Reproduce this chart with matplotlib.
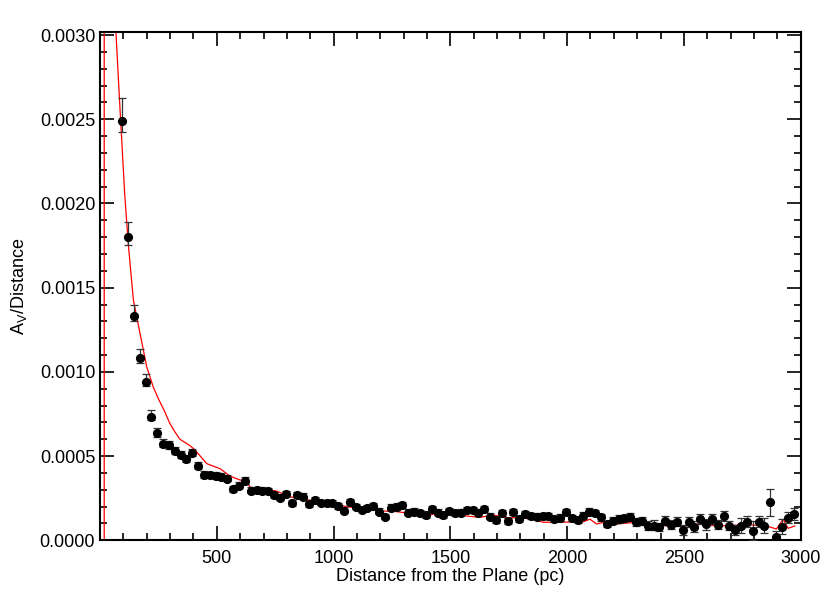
import numpy as np
import matplotlib
matplotlib.use("Agg")
import matplotlib.pyplot as plt
from matplotlib.ticker import MultipleLocator

plt.rcParams['font.family'] = ['Liberation Sans', 'DejaVu Sans']

# binned data points (pc, Av/distance)
dist = [95, 120, 145, 170, 195, 220, 245, 270, 295, 320, 345, 370, 395, 420, 445, 470,
        495, 520, 545, 570, 595, 620, 645, 670, 695, 720, 745, 770, 795, 820, 845, 870,
        895, 920, 945, 970, 995, 1020, 1045, 1070, 1095, 1120, 1145, 1170, 1195, 1220,
        1245, 1270, 1295, 1320, 1345, 1370, 1395, 1420, 1445, 1470, 1495, 1520, 1545,
        1570, 1595, 1620, 1645, 1670, 1695, 1720, 1745, 1770, 1795, 1820, 1845, 1870,
        1895, 1920, 1945, 1970, 1995, 2020, 2045, 2070, 2095, 2120, 2145, 2170, 2195,
        2220, 2245, 2270, 2295, 2320, 2345, 2370, 2395, 2420, 2445, 2470, 2495, 2520,
        2545, 2570, 2595, 2620, 2645, 2670, 2695, 2720, 2745, 2770, 2795, 2820, 2845,
        2870, 2895, 2920, 2945, 2970]
av_d = [2.49e-3, 1.80e-3, 1.33e-3, 1.08e-3, 9.4e-4, 7.35e-4, 6.35e-4, 5.7e-4, 5.63e-4,
        5.28e-4, 5.04e-4, 4.8e-4, 5.16e-4, 4.41e-4, 3.87e-4, 3.85e-4, 3.81e-4, 3.77e-4,
        3.65e-4, 3.02e-4, 3.24e-4, 3.52e-4, 2.94e-4, 2.98e-4, 2.94e-4, 2.9e-4, 2.69e-4,
        2.53e-4, 2.73e-4, 2.21e-4, 2.7e-4, 2.59e-4, 2.15e-4, 2.39e-4, 2.23e-4, 2.19e-4,
        2.23e-4, 2.03e-4, 1.76e-4, 2.27e-4, 1.99e-4, 1.8e-4, 1.93e-4, 2.03e-4, 1.7e-4,
        1.4e-4, 1.93e-4, 1.99e-4, 2.08e-4, 1.64e-4, 1.7e-4, 1.6e-4, 1.5e-4, 1.86e-4,
        1.64e-4, 1.5e-4, 1.72e-4, 1.62e-4, 1.64e-4, 1.8e-4, 1.8e-4, 1.64e-4, 1.84e-4,
        1.4e-4, 1.2e-4, 1.6e-4, 1.15e-4, 1.66e-4, 1.26e-4, 1.56e-4, 1.44e-4, 1.4e-4,
        1.44e-4, 1.44e-4, 1.25e-4, 1.34e-4, 1.66e-4, 1.3e-4, 1.2e-4, 1.46e-4, 1.7e-4,
        1.6e-4, 1.36e-4, 9.5e-5, 1.16e-4, 1.25e-4, 1.3e-4, 1.36e-4, 1.07e-4, 1.15e-4,
        8.7e-5, 8.7e-5, 7.7e-5, 1.16e-4, 9.1e-5, 1.1e-4, 6.1e-5, 1.07e-4, 8.1e-5,
        1.25e-4, 9.5e-5, 1.26e-4, 9.1e-5, 1.46e-4, 8.7e-5, 6.1e-5, 8.7e-5, 1.1e-4,
        5.7e-5, 1.1e-4, 8.7e-5, 2.25e-4, 1.8e-5, 8.1e-5, 1.34e-4, 1.56e-4]
# error bars in units of 1e-5
err_hi = [13.5, 9.2, 6.8, 5.3, 4.7, 4.0, 3.4, 3.1, 2.9, 2.8, 2.7, 2.6, 2.6, 2.4, 2.3, 2.3,
          2.2, 2.2, 2.2, 2.1, 2.1, 2.2, 2.1, 2.0, 2.0, 2.0, 2.0, 2.0, 2.0, 1.9, 1.9, 1.9,
          1.9, 1.9, 1.9, 1.9, 1.9, 1.9, 1.9, 1.9, 1.9, 1.9, 1.9, 2.0, 1.9, 1.9, 2.0, 2.0,
          2.0, 1.9, 1.9, 1.9, 1.9, 2.0, 1.9, 1.9, 2.0, 1.9, 1.9, 2.0, 2.0, 2.0, 2.0, 2.0,
          2.0, 2.0, 2.0, 2.0, 2.0, 2.0, 2.0, 2.0, 2.0, 2.0, 2.0, 2.1, 2.1, 2.1, 2.1, 2.1,
          2.2, 2.2, 2.2, 2.2, 2.3, 2.3, 2.3, 2.4, 2.4, 2.5, 2.6, 3.2, 2.7, 2.7, 2.8, 2.8,
          3.2, 3.4, 3.2, 3.0, 3.4, 3.0, 2.8, 2.9, 3.0, 3.0, 4.4, 3.2, 5.5, 3.4, 4.4, 7.9,
          3.6, 4.6, 3.6, 3.6]
err_lo = [6.7, 4.6, 3.0, 3.0, 2.6, 2.2, 2.0, 1.9, 1.8, 1.8, 1.7, 1.7, 1.7, 1.6, 1.6, 1.6,
          1.5, 1.5, 1.5, 1.5, 1.5, 1.5, 1.5, 1.5, 1.5, 1.5, 1.5, 1.5, 1.5, 1.5, 1.5, 1.5,
          1.5, 1.5, 1.5, 1.5, 1.5, 1.5, 1.5, 1.5, 1.5, 1.5, 1.5, 1.5, 1.5, 1.5, 1.5, 1.5,
          1.5, 1.5, 1.5, 1.5, 1.5, 1.5, 1.5, 1.5, 1.5, 1.5, 1.5, 1.5, 1.5, 1.5, 1.5, 1.5,
          1.6, 1.6, 1.6, 1.6, 1.6, 1.6, 1.6, 1.6, 1.7, 1.7, 1.7, 1.7, 1.7, 1.8, 1.8, 1.8,
          1.8, 1.8, 1.9, 1.9, 2.0, 2.0, 2.0, 2.1, 2.1, 2.2, 2.3, 2.8, 2.4, 2.4, 2.5, 2.5,
          2.9, 3.1, 2.9, 2.7, 3.1, 2.7, 2.5, 2.9, 2.7, 2.7, 4.4, 3.0, 5.5, 3.2, 4.4, 7.9,
          3.4, 4.6, 3.4, 3.4]

# model curve
model_x = [18, 18, 40, 55, 68, 88, 106, 121, 143, 171, 200, 228, 250, 275, 299, 320, 342,
           385, 407, 457, 514, 557, 599, 628, 642, 685, 756, 813, 842, 913, 999, 1056,
           1127, 1199, 1270, 1327, 1370, 1413, 1455, 1512, 1570, 1627, 1684, 1741, 1798,
           1855, 1898, 1969, 2069, 2098, 2126, 2169, 2212, 2269, 2354, 2426, 2497, 2568,
           2640, 2711, 2783, 2854, 2896, 2925, 2946, 2975]
model_y = [-1e-3, 5e-2, 7.5e-3, 4.2e-3, 3.02e-3, 2.5e-3, 2.05e-3, 1.76e-3, 1.425e-3,
           1.23e-3, 1.03e-3, 9.1e-4, 8.4e-4, 7.7e-4, 6.94e-4, 6.45e-4, 6.0e-4, 5.62e-4,
           5.36e-4, 4.55e-4, 4.25e-4, 3.81e-4, 3.58e-4, 3.52e-4, 3.15e-4, 3.08e-4,
           2.92e-4, 2.59e-4, 2.5e-4, 2.35e-4, 2.19e-4, 1.99e-4, 1.9e-4, 1.75e-4, 1.7e-4,
           1.6e-4, 1.7e-4, 1.5e-4, 1.66e-4, 1.54e-4, 1.44e-4, 1.36e-4, 1.5e-4, 1.34e-4,
           1.34e-4, 1.25e-4, 1.07e-4, 1.07e-4, 1.1e-4, 1.25e-4, 9.7e-5, 1.1e-4, 9.7e-5,
           1.04e-4, 1.0e-4, 8.5e-5, 8.5e-5, 9.7e-5, 8.5e-5, 8.9e-5, 9.2e-5, 8.5e-5,
           6.7e-5, 1.25e-4, 7.1e-5, 8.5e-5]

fig = plt.figure(figsize=(8.3, 6.04), dpi=100)
ax = fig.add_axes([0.1205, 0.1055, 0.8442, 0.842])

ax.plot(model_x, model_y, color='red', lw=0.9, zorder=2)
yerr = [np.array(err_lo) * 1e-5, np.array(err_hi) * 1e-5]
ax.errorbar(dist, av_d, yerr=yerr, fmt='o', color='black', ms=5.6,
            ecolor='#333333', elinewidth=0.9, capsize=3, capthick=0.9, zorder=3)

ax.set_xlim(0, 3000)
ax.set_ylim(0, 0.00302)
ax.xaxis.set_minor_locator(MultipleLocator(100))
ax.yaxis.set_minor_locator(MultipleLocator(0.0001))
ax.set_xticks([500, 1000, 1500, 2000, 2500, 3000])
ax.set_yticks([0, 0.0005, 0.001, 0.0015, 0.002, 0.0025, 0.003])
ax.set_yticklabels(['%.4f' % v for v in ax.get_yticks()])
ax.tick_params(which='both', direction='in', top=True, right=True, labelsize=13, width=1.2)
ax.tick_params(which='major', length=10)
ax.tick_params(which='minor', length=5)
ax.tick_params(axis='x', pad=7)
for s in ax.spines.values():
    s.set_linewidth(1.5)

ax.set_xlabel('Distance from the Plane (pc)', fontsize=13, labelpad=1)
ax.set_ylabel('A$_\\mathregular{V}$/Distance', fontsize=13, labelpad=8)

fig.savefig('out.png', dpi=100)
